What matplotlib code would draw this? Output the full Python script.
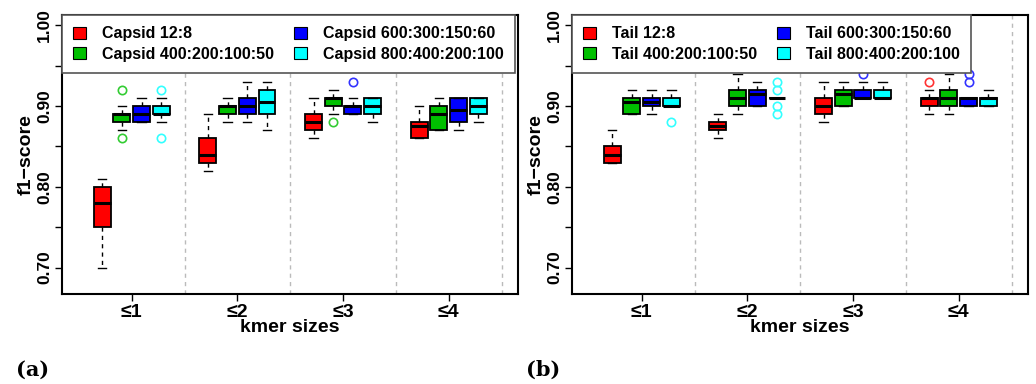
import numpy as np
import matplotlib.pyplot as plt
from matplotlib.patches import Patch

groups = ["≤1", "≤2", "≤3", "≤4"]
colors = ["#FF0000", "#00C000", "#0000FF", "#00FFFF"]
flier_colors = ["#FF3333", "#33CC33", "#3333FF", "#33FFFF"]

capsid_labels = ["Capsid 12:8", "Capsid 400:200:100:50",
                 "Capsid 600:300:150:60", "Capsid 800:400:200:100"]
tail_labels = ["Tail 12:8", "Tail 400:200:100:50",
               "Tail 600:300:150:60", "Tail 800:400:200:100"]

# rows = kmer group, columns = series (red, green, blue, cyan)
capsid_whishi = [[0.81, 0.90, 0.91, 0.91], [0.89, 0.91, 0.93, 0.93],
                 [0.91, 0.92, 0.91, 0.91], [0.90, 0.91, 0.91, 0.91]]
capsid_q3 = [[0.80, 0.89, 0.90, 0.90], [0.86, 0.90, 0.91, 0.92],
             [0.89, 0.91, 0.90, 0.91], [0.88, 0.90, 0.91, 0.91]]
capsid_med = [[0.78, 0.89, 0.89, 0.89], [0.84, 0.90, 0.90, 0.905],
              [0.88, 0.91, 0.90, 0.90], [0.875, 0.89, 0.895, 0.90]]
capsid_q1 = [[0.75, 0.88, 0.88, 0.89], [0.83, 0.89, 0.89, 0.89],
             [0.87, 0.90, 0.89, 0.89], [0.86, 0.87, 0.88, 0.89]]
capsid_whislo = [[0.70, 0.87, 0.88, 0.88], [0.82, 0.88, 0.88, 0.87],
                 [0.86, 0.89, 0.89, 0.88], [0.86, 0.87, 0.87, 0.88]]
capsid_fliers = [[[], [0.92, 0.86], [], [0.92, 0.86]],
                 [[], [], [], []],
                 [[], [0.88], [0.93], []],
                 [[], [], [], []]]

tail_whishi = [[0.87, 0.92, 0.92, 0.92], [0.89, 0.94, 0.93, 0.91],
               [0.93, 0.93, 0.93, 0.93], [0.92, 0.94, 0.91, 0.92]]
tail_q3 = [[0.85, 0.91, 0.91, 0.91], [0.88, 0.92, 0.92, 0.91],
           [0.91, 0.92, 0.92, 0.92], [0.91, 0.92, 0.91, 0.91]]
tail_med = [[0.84, 0.905, 0.905, 0.90], [0.875, 0.91, 0.915, 0.91],
            [0.90, 0.915, 0.91, 0.91], [0.91, 0.91, 0.91, 0.91]]
tail_q1 = [[0.83, 0.89, 0.90, 0.90], [0.87, 0.90, 0.90, 0.91],
           [0.89, 0.90, 0.91, 0.91], [0.90, 0.90, 0.90, 0.90]]
tail_whislo = [[0.83, 0.89, 0.89, 0.90], [0.86, 0.89, 0.90, 0.91],
               [0.88, 0.90, 0.91, 0.91], [0.89, 0.89, 0.90, 0.90]]
tail_fliers = [[[], [], [], [0.88]],
               [[], [], [], [0.93, 0.92, 0.90, 0.89]],
               [[], [], [0.94], []],
               [[0.93], [], [0.94, 0.93], []]]

offsets = [-0.28, -0.093, 0.093, 0.28]
bold = {"family": "Liberation Sans", "weight": "bold"}


def panel(ax, whishi, q3, med, q1, whislo, fliers, labels, letter):
    for s in range(4):
        stats = []
        for g in range(4):
            stats.append(dict(med=med[g][s], q1=q1[g][s], q3=q3[g][s],
                              whislo=whislo[g][s], whishi=whishi[g][s],
                              fliers=fliers[g][s]))
        pos = [g + 1 + offsets[s] for g in range(4)]
        ax.bxp(stats, positions=pos, widths=0.16, capwidths=0.08,
               patch_artist=True, manage_ticks=False,
               boxprops=dict(facecolor=colors[s], edgecolor="black", linewidth=1.3),
               medianprops=dict(color="black", linewidth=2.2),
               whiskerprops=dict(color="black", linewidth=1.0, linestyle=(0, (3, 3))),
               capprops=dict(color="black", linewidth=1.0),
               flierprops=dict(marker="o", markerfacecolor="none",
                               markeredgecolor=flier_colors[s], markersize=6,
                               markeredgewidth=1.2))
    for b in [1.5, 2.5, 3.5, 4.5]:
        ax.axvline(b, color="#BBBBBB", linestyle=(0, (3, 3)), linewidth=1.0, zorder=0)
    ax.set_xlim(0.34, 4.655)
    ax.set_ylim(0.6672, 1.0128)
    ax.set_xticks([1, 2, 3, 4])
    ax.set_xticklabels(groups, fontsize=14, **bold)
    ax.set_yticks(np.arange(0.70, 1.001, 0.05))
    ax.set_yticklabels(["0.70", "", "0.80", "", "0.90", "", "1.00"],
                       rotation=90, va="center", fontsize=12.5, **bold)
    ax.tick_params(axis="both", length=5, width=1, pad=2)
    for sp in ax.spines.values():
        sp.set_linewidth(1.5)
    ax.set_xlabel("kmer sizes", fontsize=14, labelpad=-1, **bold)
    ax.set_ylabel("f1−score", fontsize=14, labelpad=2, **bold)
    handles = [Patch(facecolor=c, edgecolor="black", linewidth=0.8) for c in colors]
    leg = ax.legend(handles, labels, loc="upper left", ncol=2,
                    bbox_to_anchor=(0, 1), borderaxespad=0,
                    prop=dict(family="Liberation Sans", weight="bold", size=11.5),
                    handlelength=0.8, handleheight=0.8, handletextpad=1.0,
                    columnspacing=1.25, labelspacing=0.35, borderpad=0.7,
                    fancybox=False, framealpha=1)
    leg.get_frame().set_edgecolor("#555555")
    leg.get_frame().set_linewidth(1.2)
    ax.text(-0.1, -0.27, letter, transform=ax.transAxes, fontsize=15,
            family="DejaVu Serif", weight="bold", va="center", ha="left")


fig = plt.figure(figsize=(10.36, 3.84), dpi=100)
ax1 = fig.add_axes([62 / 1036, 90 / 384, 456 / 1036, 279 / 384])
ax2 = fig.add_axes([572 / 1036, 90 / 384, 456 / 1036, 279 / 384])

panel(ax1, capsid_whishi, capsid_q3, capsid_med, capsid_q1, capsid_whislo,
      capsid_fliers, capsid_labels, "(a)")
panel(ax2, tail_whishi, tail_q3, tail_med, tail_q1, tail_whislo,
      tail_fliers, tail_labels, "(b)")

fig.savefig("out.png", dpi=100)
